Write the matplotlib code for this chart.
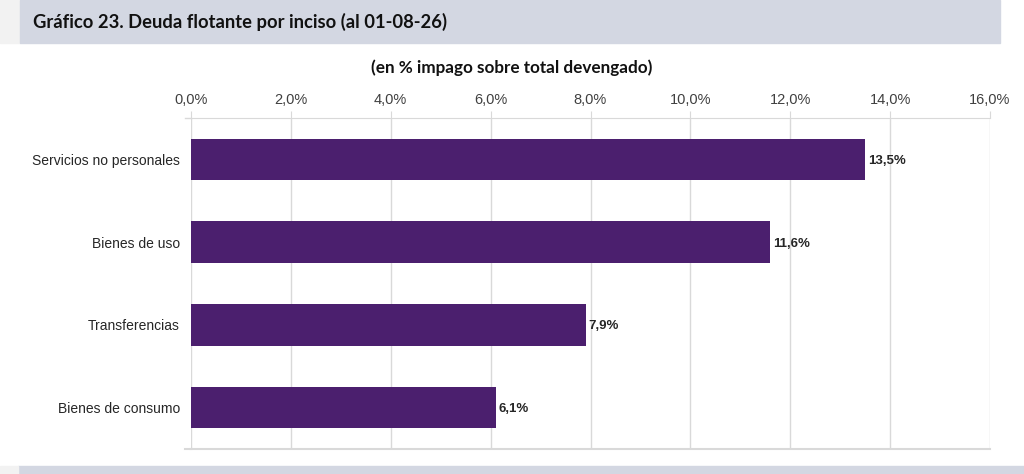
import matplotlib.pyplot as plt
from matplotlib.patches import Rectangle
from matplotlib.lines import Line2D

categorias = ['Servicios no personales', 'Bienes de uso', 'Transferencias', 'Bienes de consumo']
valores = [13.5, 11.6, 7.9, 6.1]
ticks = [0, 2, 4, 6, 8, 10, 12, 14, 16]

W, H = 1024, 474
fig = plt.figure(figsize=(W / 100, H / 100), dpi=100)
fig.patch.set_facecolor('white')

# franjas grises de encabezado y pie
fig.patches.append(Rectangle((0, 1 - 43 / H), 20 / W, 43 / H, transform=fig.transFigure,
                             color='#F2F2F2', zorder=0))
fig.patches.append(Rectangle((20 / W, 1 - 43 / H), 980 / W, 43 / H, transform=fig.transFigure,
                             color='#D3D7E2', zorder=0))
fig.patches.append(Rectangle((18 / W, 0), 1, 8 / H, transform=fig.transFigure,
                             color='#D3D7E2', zorder=0))
fig.patches.append(Rectangle((0, 0), 18 / W, 8 / H, transform=fig.transFigure,
                             color='#F2F2F2', zorder=0))

fig.text(33 / W, 1 - 22 / H, 'Gráfico 23. Deuda flotante por inciso (al 01-08-26)',
         fontsize=13.2, fontweight='bold', family='Lato', color='#111111',
         va='center', ha='left')
fig.text(512 / W, 1 - 68 / H, '(en % impago sobre total devengado)',
         fontsize=12.3, fontweight='bold', family='Lato', color='#111111',
         va='center', ha='center')

ax = fig.add_axes([191 / W, 25 / H, 799 / W, 331 / H])
y = list(range(len(categorias)))
ax.barh(y, valores, height=0.5, color='#4B1F6E', zorder=3)
for yi, v in zip(y, valores):
    ax.text(v + 0.06, yi, f'{v:.1f}%'.replace('.', ','), va='center_baseline', ha='left',
            fontsize=9.5, fontweight='bold', family='Liberation Sans', color='#262626')

ax.set_xlim(0, 16)
ax.set_ylim(3.5, -0.5)
ax.set_xticks(ticks)
ax.set_xticklabels([f'{t:.1f}%'.replace('.', ',') for t in ticks],
                   family='Liberation Sans', fontsize=10.5, color='#404040')
ax.xaxis.tick_top()
ax.tick_params(axis='x', length=5, color='#D9D9D9', pad=3)
ax.set_yticks(y)
ax.set_yticklabels(categorias, family='Liberation Sans', fontsize=10, color='#262626')
ax.tick_params(axis='y', length=0, pad=8)
ax.grid(axis='x', color='#D9D9D9', linewidth=1, zorder=0)
for s in ['left', 'right']:
    ax.spines[s].set_visible(False)
ax.spines['top'].set_color('#D9D9D9')
ax.spines['bottom'].set_color('#D9D9D9')
ax.spines['bottom'].set_linewidth(1.5)
# pequeñas prolongaciones de los ejes hacia la izquierda
for yy, lw in [(1.0, 1.0), (0.0, 1.5)]:
    ax.add_line(Line2D([-6 / 799, 0], [yy, yy], transform=ax.transAxes,
                       color='#D9D9D9', linewidth=lw, clip_on=False))

fig.savefig('out.png', dpi=100)
